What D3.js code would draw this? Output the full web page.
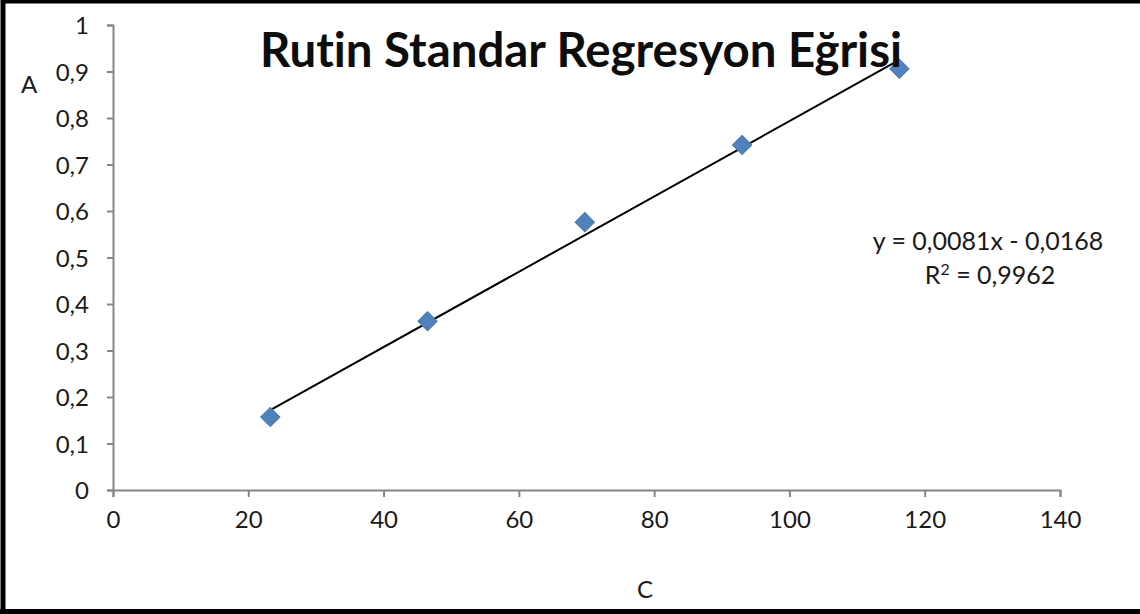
<!DOCTYPE html>
<html>
<head>
<meta charset="utf-8">
<script src="https://cdn.jsdelivr.net/npm/d3@7"></script>
<style>
  body { margin: 0; background: #fff; }
  svg { display: block; font-family: Lato, "Open Sans", sans-serif; font-variant-ligatures: none; }
</style>
</head>
<body>
<div id="chart"></div>
<script>
const concentrations = [23.25, 46.5, 69.75, 93, 116.25];
const absorbances = [0.157, 0.363, 0.576, 0.742, 0.906];
const xTicks = [0, 20, 40, 60, 80, 100, 120, 140];
const yTicks = [0, 0.1, 0.2, 0.3, 0.4, 0.5, 0.6, 0.7, 0.8, 0.9, 1];
const slope = 0.0081;
const intercept = -0.0168;
const titleText = 'Rutin Standar Regresyon Eğrisi';
const equationText = 'y = 0,0081x - 0,0168';
const r2Text = '0,9962';

const width = 1140, height = 614;
const commaFmt = d => String(d).replace('.', ',');

var svg = d3.select('#chart').append('svg')
  .attr('width', width)
  .attr('height', height);

svg.append('rect').attr('width', width).attr('height', height).attr('fill', '#fff');

// frame (left, top, bottom only)
svg.append('path')
  .attr('d', `M3,${height} L3,1 L${width},1 M0,${height - 2.5} L${width},${height - 2.5}`)
  .attr('fill', 'none')
  .attr('stroke', '#000')
  .attr('stroke-width', 5);

var xScale = d3.scaleLinear().domain([0, 140]).range([113, 1060]);
var yScale = d3.scaleLinear().domain([0, 1]).range([490, 25]);

var xAxis = svg.append('g')
  .attr('transform', 'translate(0,490)')
  .call(d3.axisBottom(xScale).tickValues(xTicks).tickSize(7).tickPadding(14).tickFormat(d => d));
var yAxis = svg.append('g')
  .attr('transform', 'translate(113,0)')
  .call(d3.axisLeft(yScale).tickValues(yTicks).tickSize(6).tickPadding(18).tickFormat(commaFmt));

[xAxis, yAxis].forEach(ax => {
  ax.select('.domain').attr('stroke', '#868686').attr('stroke-width', 2);
  ax.selectAll('.tick line').attr('stroke', '#868686').attr('stroke-width', 2);
  ax.selectAll('.tick text').attr('fill', '#1a1a1a').style('font-size', '24px')
    .style('font-family', 'Lato, sans-serif');
});
xAxis.selectAll('.tick text').attr('dy', '0.71em');
yAxis.selectAll('.tick text').attr('dy', '0.36em');

// trendline
var xMin = d3.min(concentrations), xMax = d3.max(concentrations);
svg.append('line')
  .attr('x1', xScale(xMin)).attr('y1', yScale(slope * xMin + intercept))
  .attr('x2', xScale(xMax)).attr('y2', yScale(slope * xMax + intercept))
  .attr('stroke', '#000')
  .attr('stroke-width', 2);

// points
var diamond = d3.symbol().type(d3.symbolSquare).size(185);
svg.selectAll('path.pt')
  .data(concentrations.map((c, i) => ({ x: c, y: absorbances[i] })))
  .enter().append('path')
  .attr('class', 'pt')
  .attr('d', diamond)
  .attr('transform', d => `translate(${xScale(d.x)},${yScale(d.y)}) rotate(45)`)
  .attr('fill', '#4f81bd')
  .attr('stroke', '#4a78b0')
  .attr('stroke-width', 1);

// title
svg.append('text')
  .attr('x', 581).attr('y', 67)
  .attr('text-anchor', 'middle')
  .attr('textLength', 642)
  .attr('lengthAdjust', 'spacingAndGlyphs')
  .style('font-size', '47px')
  .style('font-weight', 'bold')
  .attr('fill', '#0d0d0d')
  .text(titleText);

// equation
svg.append('text')
  .attr('x', 988).attr('y', 250)
  .attr('text-anchor', 'middle')
  .style('font-size', '25px')
  .attr('fill', '#1a1a1a')
  .text(equationText);
var r2 = svg.append('text')
  .attr('x', 990).attr('y', 284)
  .attr('text-anchor', 'middle')
  .style('font-size', '25px')
  .attr('fill', '#1a1a1a');
r2.append('tspan').text('R');
r2.append('tspan').attr('dy', -9).style('font-size', '16px').text('2');
r2.append('tspan').attr('dy', 9).text(' = ' + r2Text);

// axis titles
svg.append('text').attr('x', 29).attr('y', 93).attr('text-anchor', 'middle')
  .style('font-size', '24px').attr('fill', '#1a1a1a').text('A');
svg.append('text').attr('x', 645).attr('y', 598).attr('text-anchor', 'middle')
  .style('font-size', '24px').attr('fill', '#1a1a1a').text('C');
</script>
</body>
</html>
